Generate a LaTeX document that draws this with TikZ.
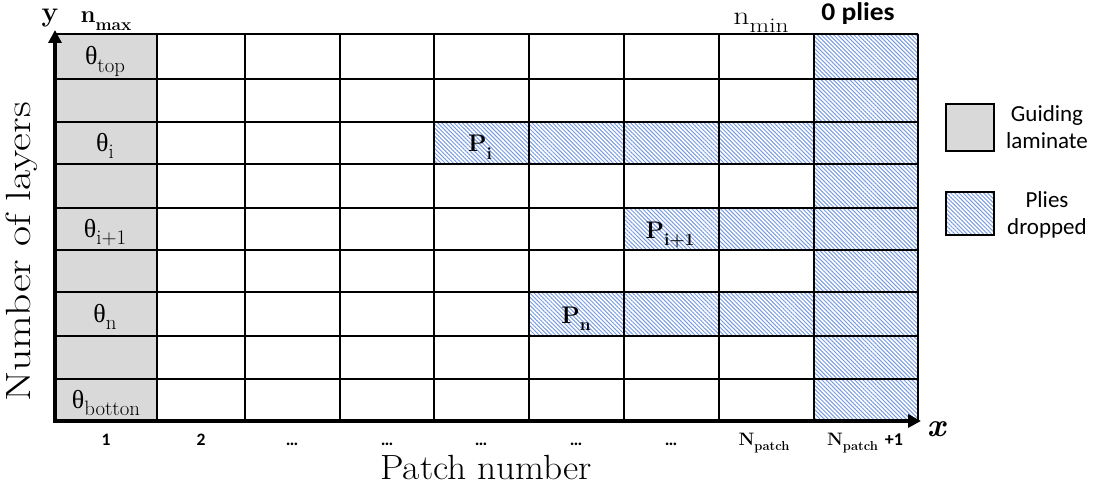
\documentclass[tikz,border=0pt]{standalone}
\usepackage{fontspec}
\usetikzlibrary{patterns.meta,arrows.meta}
\newfontfamily\carlitofont{Carlito}
\newfontfamily\grkfont{Liberation Serif}
\newcommand{\lsub}[1]{\raisebox{-0.3em}{\scalebox{0.72}{#1}}}
\newcommand{\bsub}[1]{\raisebox{-0.28em}{\scalebox{0.8}{#1}}}
\definecolor{hatchblue}{RGB}{120,155,225}
\definecolor{guidegray}{RGB}{217,217,217}
\tikzset{
  hatched/.style={pattern={Lines[angle=-45,distance=2.9pt,line width=1.0pt]},pattern color=hatchblue},
  gridline/.style={line width=1.2pt,black},
  axisline/.style={line width=3.6pt,black,-{Triangle[length=13pt,width=13pt]}},
  thetalbl/.style={font=\fontsize{26}{28}\selectfont,inner sep=0pt,anchor=base},
  plbl/.style={font=\bfseries\fontsize{24}{26}\selectfont,inner sep=0pt,anchor=base},
  xlbl/.style={font=\carlitofont\bfseries\fontsize{17.5}{20}\selectfont,inner sep=0pt,anchor=base},
  leglbl/.style={font=\carlitofont\fontsize{23}{27}\selectfont,align=center,inner sep=0pt},
}
\begin{document}
\begin{tikzpicture}[x=1pt,y=-1pt]
\useasboundingbox (0,0) rectangle (1094,489);
% guiding column
\fill[guidegray] (55,34) rectangle (157,421);
% hatched areas
\path[hatched] (814,34) rectangle (918,421);
\path[hatched] (434,122) rectangle (814,164);
\path[hatched] (624,208) rectangle (814,250);
\path[hatched] (529,292) rectangle (814,336);
% grid
\foreach \xx in {157,245,340,434,529,624,719,814,918}
  \draw[gridline] (\xx,34) -- (\xx,421);
\foreach \yy in {34,79,122,164,208,250,292,336,379}
  \draw[gridline] (55,\yy) -- (918,\yy);
% axes
\coordinate (O) at (55,421);
\coordinate (Ytip) at (55,30);
\coordinate (Xtip) at (921,421);
\draw[axisline] (O) -- (Ytip);
\draw[axisline] ([xshift=-1.8pt]O) -- (Xtip);
% cell labels
\node[thetalbl] (t1) at (105,65) {{\grkfont θ}\bsub{top}};
\node[thetalbl] (t3) at (105,151.5) {{\grkfont θ}\bsub{i}};
\node[thetalbl] (t5) at (105,237.5) {{\grkfont θ}\bsub{i+1}};
\node[thetalbl] (t7) at (105,322.5) {{\grkfont θ}\bsub{n}};
\node[thetalbl] (t9) at (106,408.5) {{\grkfont θ}\bsub{botton}};
\node[plbl] (pi) at (480,152) {P\lsub{i}};
\node[plbl] (pi1) at (670,238) {P\lsub{i+1}};
\node[plbl] (pn) at (576,323) {P\lsub{n}};
% top labels
\node[font=\bfseries\fontsize{28}{30}\selectfont,inner sep=0pt,anchor=base] (ylab) at (50,22) {y};
\node[font=\bfseries\fontsize{24}{26}\selectfont,inner sep=0pt,anchor=base] (nmax) at (106,23) {n\lsub{max}};
\node[font=\fontsize{26}{28}\selectfont,inner sep=0pt,anchor=base] (nmin) at (761,25) {\scalebox{1.22}[1]{n\bsub{min}}};
\node[font=\carlitofont\bfseries\fontsize{25.5}{28}\selectfont,inner sep=0pt,anchor=base] (zero) at (858,21) {\scalebox{1.08}[1]{0 plies}};
% bottom labels
\node[xlbl] (c1) at (106,445) {1};
\node[xlbl] (c2) at (201,445) {2};
\node[xlbl] (c3) at (292,445) {…};
\node[xlbl] (c4) at (387,445) {…};
\node[xlbl] (c5) at (481,445) {…};
\node[xlbl] (c6) at (576,445) {…};
\node[xlbl] (c7) at (671,445) {…};
\node[font=\bfseries\fontsize{18}{20}\selectfont,inner sep=0pt,anchor=base] (c8) at (764,445) {N\lsub{patch}};
\node[font=\bfseries\fontsize{18}{20}\selectfont,inner sep=0pt,anchor=base] (c9) at (865,445) {N\lsub{patch} {\carlitofont +1}};
\node[font=\bfseries\itshape\fontsize{33}{34}\selectfont,inner sep=0pt,anchor=base] (xlab) at (936,436) {x};
% axis titles
\node[font=\fontsize{35}{40}\selectfont,inner sep=0pt] (xt) at (486,467) {\scalebox{1.07}[1]{Patch number}};
\node[font=\fontsize{35}{40}\selectfont,inner sep=0pt,rotate=90] (yt) at (22,252) {\scalebox{1.25}[1]{Number of layers}};
% legend
\draw[line width=1.2pt,fill=guidegray] (946,104) rectangle (994,151);
\node[leglbl] (lg1) at (1047,127) {Guiding\\laminate};
\path[hatched] (946,192) rectangle (994,235);
\draw[line width=1.2pt] (946,192) rectangle (994,235);
\node[leglbl] (lg2) at (1047,215) {Plies\\dropped};
\end{tikzpicture}
\end{document}
